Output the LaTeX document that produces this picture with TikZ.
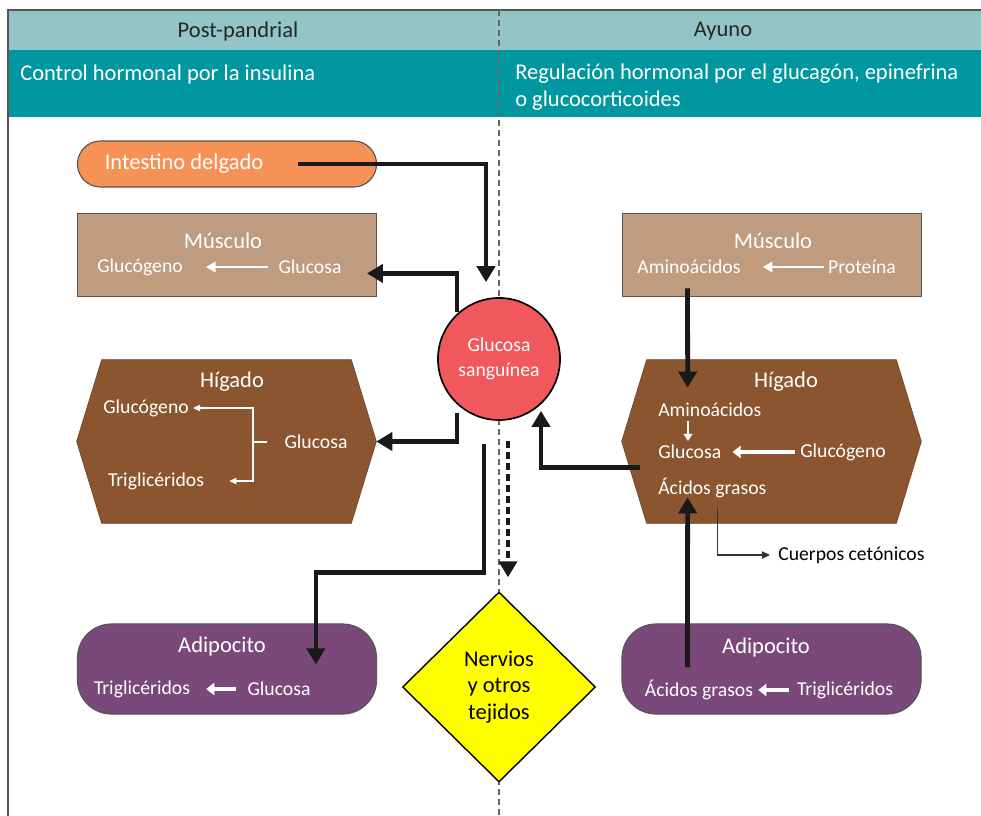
\documentclass[tikz,border=0pt]{standalone}
\usepackage{fontspec}
\setmainfont{Carlito}
\usepackage{xcolor}
\definecolor{hdrlight}{RGB}{146,196,200}
\definecolor{hdrteal}{RGB}{0,151,160}
\definecolor{orangebox}{RGB}{247,146,86}
\definecolor{tanbox}{RGB}{191,155,128}
\definecolor{liverbrown}{RGB}{139,86,47}
\definecolor{purplebox}{RGB}{123,73,121}
\definecolor{bloodred}{RGB}{240,88,92}
\definecolor{nerveyellow}{RGB}{255,255,0}
\definecolor{darkgray}{RGB}{85,85,85}
\usepackage{tikz}
\usetikzlibrary{positioning,shapes.geometric,arrows.meta,calc}
\tikzset{
  hdr/.style={text=black!85,font=\fontsize{16pt}{19pt}\selectfont,inner sep=0pt},
  sub/.style={text=white,font=\fontsize{16pt}{19pt}\selectfont,inner sep=0pt},
  ttl/.style={text=white,font=\fontsize{16pt}{19pt}\selectfont,inner sep=0pt},
  itm/.style={text=white,font=\fontsize{14pt}{17pt}\selectfont,inner sep=0pt},
  blk/.style={text=black,font=\fontsize{14pt}{17pt}\selectfont,inner sep=0pt},
  intbox/.style={rectangle,rounded corners=0.575cm,draw=darkgray,line width=0.8pt,
    fill=orangebox,minimum width=7.475cm,minimum height=1.15cm,inner sep=0pt},
  musbox/.style={rectangle,draw=darkgray,line width=0.6pt,
    fill=tanbox,minimum width=7.475cm,minimum height=2.075cm,inner sep=0pt},
  adibox/.style={rectangle,rounded corners=0.85cm,draw=darkgray,line width=0.8pt,
    fill=purplebox,minimum width=7.475cm,minimum height=2.25cm,inner sep=0pt},
  livbox/.style={rectangle,draw=none,minimum width=7.475cm,minimum height=4.075cm,inner sep=0pt},
  livfill/.style={fill=liverbrown,draw=liverbrown!80!black,line width=0.5pt},
  glcnode/.style={circle,draw=black,line width=1.2pt,fill=bloodred,text=white,
    minimum size=3.05cm,inner sep=0pt,align=center,font=\fontsize{14pt}{17.7pt}\selectfont},
  nervbox/.style={diamond,draw=black,line width=1pt,fill=nerveyellow,text=black,
    minimum width=4.825cm,minimum height=4.75cm,inner sep=0pt,align=center,
    font=\fontsize{16pt}{19pt}\selectfont},
  fl/.style={-{Triangle[length=4mm,width=4.5mm]},draw=black!90,line width=3.4pt},
  fldash/.style={fl,dash pattern=on 5pt off 2.8pt},
  wfl/.style={-{Triangle[length=2.4mm,width=2.6mm]},draw=white,line width=1.6pt},
  wfat/.style={-{Triangle[length=2mm,width=3mm]},draw=white,line width=2.4pt},
  wthin/.style={draw=white,line width=0.9pt},
  wsmall/.style={-{Triangle[length=1.8mm,width=2.2mm]},draw=white,line width=1.3pt},
  kthin/.style={-{Triangle[length=2mm,width=1.8mm]},draw=black!80,line width=0.8pt},
  framel/.style={draw=darkgray,line width=0.8pt},
  midl/.style={draw=black!60,line width=0.8pt,dash pattern=on 4.3pt off 2.8pt},
}

\begin{document}
\begin{tikzpicture}[x=0.025cm,y=-0.025cm]
  \useasboundingbox (0,0) rectangle (981,816);
  % Encabezado
  \fill[hdrlight] (8,10) rectangle (981,50);
  \fill[hdrteal] (8,50) rectangle (981,117);
  \draw[framel] (8,816) -- (8,10) -- (981,10);
  \draw[midl] (499,10) -- (499,816);
  \node[hdr] (postp) at (238,31) {Post-pandrial};
  \node[hdr] (ayuno) at (723,31) {Ayuno};
  \node[sub,anchor=west] (insul) at (20,74) {Control hormonal por la insulina};
  \node[sub,anchor=west,align=left] (gluca) at (515,87)
      {Regulación hormonal por el glucagón, epinefrina\\o glucocorticoides};

  % Post-pandrial
  \node[intbox] (intes) at (227,164) {};
  \node[ttl] (intt) at (184,164) {Intestino delgado};
  \node[musbox] (musL) at (227,254.5) {};
  \node[ttl] (musLt) at (223,241) {Músculo};
  \node[itm] (musLa) at (140,267) {Glucógeno};
  \node[itm] (musLb) at (310,267) {Glucosa};
  \draw[wfl] ($(musLb.west)+(-10,0)$) -- ($(musLa.east)+(23,0)$);

  \node[livbox] (higL) at (226.5,441.5) {};
  \filldraw[livfill] ($(higL.north west)+(25,0)$) -- ($(higL.north east)+(-25,0)$) -- (higL.east)
      -- ($(higL.south east)+(-25,0)$) -- ($(higL.south west)+(25,0)$) -- (higL.west) -- cycle;
  \node[ttl] (higLt) at (232,382) {Hígado};
  \node[itm] (higLa) at (146,408) {Glucógeno};
  \node[itm] (higLb) at (316,442) {Glucosa};
  \node[itm] (higLc) at (156,481) {Triglicéridos};
  \coordinate (brkL) at (253,442);
  \draw[wthin] ($(higLb.west)+(-17,0)$) -- (brkL);
  \draw[wthin,-{Triangle[length=1.8mm,width=1.6mm]}] (brkL) |- ($(higLa.east)+(4,0)$);
  \draw[wthin,-{Triangle[length=1.8mm,width=1.6mm]}] (brkL) |- ($(higLc.east)+(25,0)$);

  \node[adibox] (adiL) at (227,669) {};
  \node[ttl] (adiLt) at (222,646) {Adipocito};
  \node[itm] (adiLa) at (142,689) {Triglicéridos};
  \node[itm] (adiLb) at (279,689) {Glucosa};
  \draw[wfat] ($(adiLb.west)+(-11,0)$) -- ($(adiLa.east)+(16,0)$);

  % Centro
  \node[glcnode] (glc) at (499,359) {Glucosa\\sanguínea};
  \node[nervbox] (nerv) at (499,687) {Nervios\\y otros\\tejidos};

  % Ayuno
  \node[musbox] (musR) at (771.5,254.5) {};
  \node[ttl] (musRt) at (773,241) {Músculo};
  \node[itm] (musRa) at (689,267) {Aminoácidos};
  \node[itm] (musRb) at (862,267) {Proteína};
  \draw[wfl] ($(musRb.west)+(-4,0)$) -- ($(musRa.east)+(22,0)$);

  \node[livbox] (higR) at (771.5,441.5) {};
  \filldraw[livfill] ($(higR.north west)+(25,0)$) -- ($(higR.north east)+(-25,0)$) -- (higR.east)
      -- ($(higR.south east)+(-25,0)$) -- ($(higR.south west)+(25,0)$) -- (higR.west) -- cycle;
  \node[ttl] (higRt) at (786,382) {Hígado};
  \node[itm,anchor=west] (higRa) at (658,410) {Aminoácidos};
  \node[itm,anchor=west] (higRb) at (658,452) {Glucosa};
  \node[itm] (higRc) at (843,452) {Glucógeno};
  \node[itm,anchor=west] (higRd) at (658,488) {Ácidos grasos};
  \draw[wsmall] ($(higRa.west)+(30,11)$) -- ($(higRb.west)+(30,-11)$);
  \draw[wfat] ($(higRc.west)+(-5,0)$) -- ($(higRb.east)+(11,0)$);
  \node[blk,anchor=west] (cuerp) at (778,555) {Cuerpos cetónicos};
  \draw[kthin] ($(higR.south west)+(96,-15)$) |- ($(cuerp.west)+(-8,0)$);

  \node[adibox] (adiR) at (771.5,669) {};
  \node[ttl] (adiRt) at (766,647) {Adipocito};
  \node[itm] (adiRa) at (699,690) {Ácidos grasos};
  \node[itm] (adiRb) at (845,690) {Triglicéridos};
  \draw[wfat] ($(adiRb.west)+(-8,0)$) -- ($(adiRa.east)+(5,0)$);

  % Flechas principales
  \draw[fl] ($(intes.west)+(221,0)$) -| ($(glc.north)+(-13,-15)$);
  \draw[fl] ($(glc.north)+(-42,15)$) |- ($(musL.south east)+(-10,-23)$);
  \draw[fl] ($(glc.south)+(-42,-8)$) |- (higL.east);
  \draw[fl] ($(glc.south)+(-15,23)$) -- ++(0,129) -| ($(adiL.north west)+(239,41)$);
  \draw[fldash] ($(glc.south)+(9,20)$) -- ($(nerv.north)+(9,-14)$);
  \draw[fl] ($(musR.south west)+(66,-8)$) -- ($(higR.north west)+(66,28)$);
  \draw[fl] ($(higR.west)+(18,26)$) -| ($(glc.south)+(42,-10)$);
  \draw[fl] ($(adiR.north west)+(66,44)$) -- ($(higR.south west)+(66,-26)$);
\end{tikzpicture}
\end{document}
